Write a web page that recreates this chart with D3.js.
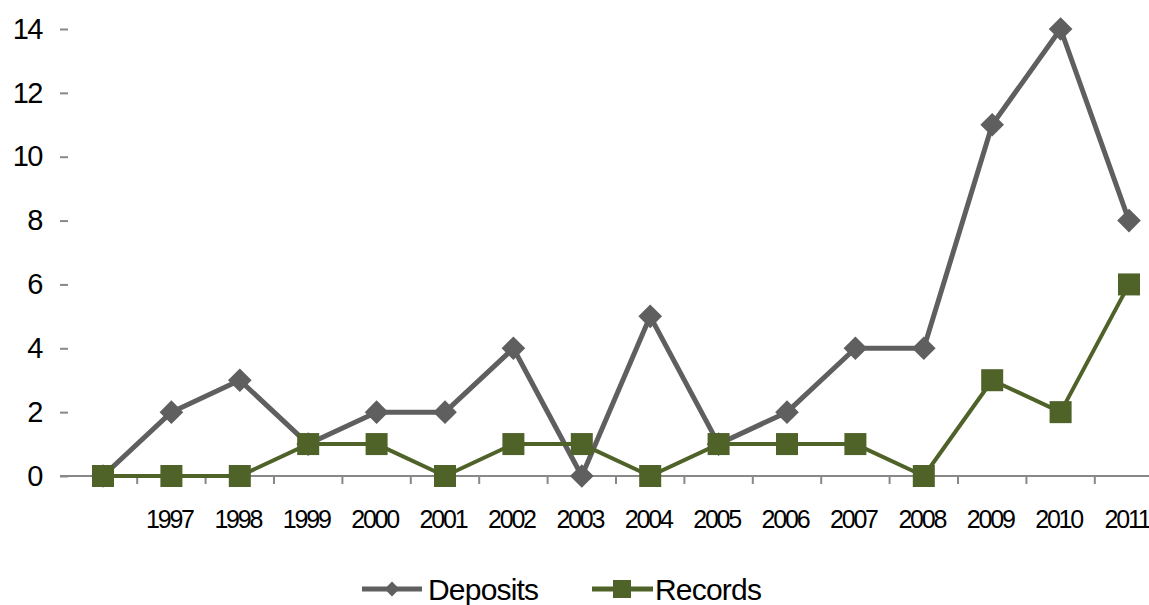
<!DOCTYPE html>
<html>
<head>
<meta charset="utf-8">
<script src="https://cdn.jsdelivr.net/npm/d3@7"></script>
<style>
  html, body { margin: 0; padding: 0; background: #fff; }
  svg { display: block; }
  text { font-family: "Liberation Sans", Arial, sans-serif; fill: #000; }
</style>
</head>
<body>
<svg id="chart" width="1149" height="605"></svg>
<script>
const categories = ["", "1997", "1998", "1999", "2000", "2001", "2002", "2003", "2004", "2005", "2006", "2007", "2008", "2009", "2010", "2011"];
const deposits = [0, 2, 3, 1, 2, 2, 4, 0, 5, 1, 2, 4, 4, 11, 14, 8];
const records  = [0, 0, 0, 1, 1, 0, 1, 1, 0, 1, 1, 1, 0, 3, 2, 6];
const yTicks = [0, 2, 4, 6, 8, 10, 12, 14];
const seriesNames = ["Deposits", "Records"];

const greyC = "#5f5f5f", greenC = "#4f6228", axisC = "#888888";
const svg = d3.select("#chart");

const x = d3.scaleBand().domain(categories).range([68.8, 68.8 + 16 * 68.4]).padding(0);
const y = d3.scaleLinear().domain([0, 14]).range([476, 29]);
const cx = c => x(c) + x.bandwidth() / 2;

// Y axis (ticks only, no domain line)
const yAxis = svg.append("g").attr("transform", "translate(68,0)")
  .call(d3.axisLeft(y).tickValues(yTicks).tickSize(8).tickPadding(18).tickFormat(d3.format("d")));
yAxis.select(".domain").remove();
yAxis.selectAll(".tick line").attr("stroke", axisC).attr("stroke-width", 2);
yAxis.selectAll(".tick text").attr("font-size", 29).attr("letter-spacing", -1.5)
  .attr("font-family", "Liberation Sans, Arial, sans-serif").attr("fill", "#000");

// X axis line
svg.append("line").attr("x1", 60).attr("x2", 1149).attr("y1", y(0)).attr("y2", y(0))
  .attr("stroke", axisC).attr("stroke-width", 2);
// boundary ticks
svg.append("g").selectAll("line").data(categories.slice(0, 15)).join("line")
  .attr("x1", d => x(d) + x.bandwidth()).attr("x2", d => x(d) + x.bandwidth())
  .attr("y1", y(0)).attr("y2", y(0) + 8)
  .attr("stroke", axisC).attr("stroke-width", 2);
// labels
const xAxis = svg.append("g").attr("transform", `translate(0,${y(0)})`)
  .call(d3.axisBottom(x).tickSize(0).tickPadding(34));
xAxis.select(".domain").remove();
xAxis.selectAll(".tick text").attr("font-size", 25).attr("letter-spacing", -2.2).attr("dx", -2)
  .attr("font-family", "Liberation Sans, Arial, sans-serif").attr("fill", "#000");

// lines
const lineGen = vals => d3.line().x((d, i) => cx(categories[i])).y(d => y(d))(vals);
svg.append("path").attr("d", lineGen(deposits)).attr("fill", "none")
  .attr("stroke", greyC).attr("stroke-width", 5).attr("stroke-linejoin", "round");
svg.append("path").attr("d", lineGen(records)).attr("fill", "none")
  .attr("stroke", greenC).attr("stroke-width", 4).attr("stroke-linejoin", "round");

// markers
const diamond = d3.symbol().type(d3.symbolSquare).size(280);
svg.append("g").selectAll("path").data(deposits).join("path")
  .attr("d", diamond)
  .attr("transform", (d, i) => `translate(${cx(categories[i])},${y(d)}) rotate(45)`)
  .attr("fill", greyC);
svg.append("g").selectAll("rect").data(records).join("rect")
  .attr("x", (d, i) => cx(categories[i]) - 11).attr("y", d => y(d) - 11)
  .attr("width", 22).attr("height", 22).attr("fill", greenC);

// legend
const lg = svg.append("g");
lg.append("line").attr("x1", 362).attr("x2", 422).attr("y1", 589).attr("y2", 589)
  .attr("stroke", greyC).attr("stroke-width", 5);
lg.append("path").attr("d", d3.symbol().type(d3.symbolSquare).size(110)())
  .attr("transform", "translate(392,589) rotate(45)").attr("fill", greyC);
lg.append("text").attr("x", 428).attr("y", 600).attr("font-size", 30).attr("letter-spacing", -0.8)
  .text(seriesNames[0]);
lg.append("line").attr("x1", 592).attr("x2", 653).attr("y1", 589).attr("y2", 589)
  .attr("stroke", greenC).attr("stroke-width", 5);
lg.append("rect").attr("x", 613).attr("y", 580).attr("width", 18).attr("height", 18).attr("fill", greenC);
lg.append("text").attr("x", 655).attr("y", 600).attr("font-size", 30).attr("letter-spacing", -0.8)
  .text(seriesNames[1]);
</script>
</body>
</html>
